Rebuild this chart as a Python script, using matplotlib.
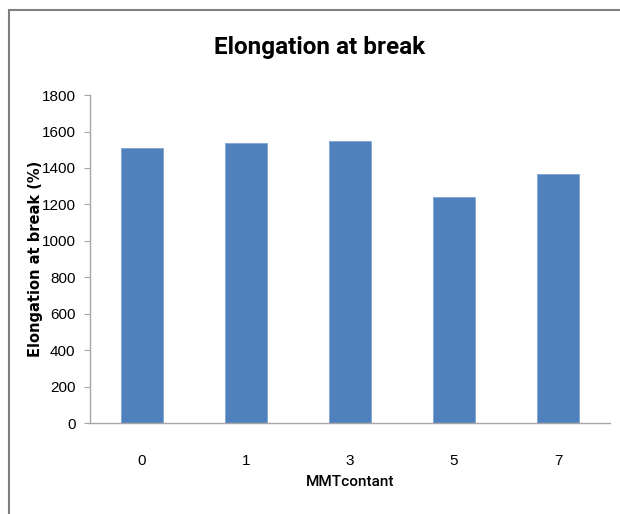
import matplotlib.pyplot as plt
import numpy as np
from matplotlib.patches import Rectangle

mmt = ['0', '1', '3', '5', '7']
elongation = [1507, 1537, 1548, 1239, 1367]

fig = plt.figure(figsize=(6.2, 5.14), dpi=100)
ax = fig.add_axes([0.1452, 0.177, 0.8387, 0.638])

x = np.arange(len(mmt))
ax.bar(x, elongation, width=0.4, color='#4F81BD', edgecolor='#7FA3D3', linewidth=0.6)

ax.set_xlim(-0.5, len(mmt) - 0.5)
ax.set_ylim(0, 1800)
ax.set_yticks(np.arange(0, 1801, 200))
ax.set_xticks(x)
ax.set_xticklabels(mmt)

for s in ['top', 'right']:
    ax.spines[s].set_visible(False)
for s in ['left', 'bottom']:
    ax.spines[s].set_color('#A6A6A6')
    ax.spines[s].set_linewidth(1.0)

ax.tick_params(axis='y', length=4, color='#A6A6A6', labelsize=11, pad=6.5)
ax.tick_params(axis='x', length=0, labelsize=11, pad=22)
for lab in ax.get_xticklabels() + ax.get_yticklabels():
    lab.set_family('Liberation Sans')

ax.set_xlabel('MMTcontant', fontsize=11, family='Roboto', fontweight='medium', labelpad=5)
ax.set_ylabel('Elongation at break (%)', fontsize=10.5, fontweight='bold',
              family='DejaVu Sans')
ax.yaxis.set_label_coords(-0.09, 0.5)

fig.text(0.515, 0.907, 'Elongation at break', ha='center', va='center',
         fontsize=17.5, fontweight='bold', family='Roboto')

# chart frame
fig.patches.append(Rectangle((8.5 / 620, -0.05), 1.2, 1.05 - 9.5 / 514,
                             transform=fig.transFigure, fill=False,
                             edgecolor='#7F7F7F', linewidth=1.5))

fig.savefig('out.png', dpi=100)
